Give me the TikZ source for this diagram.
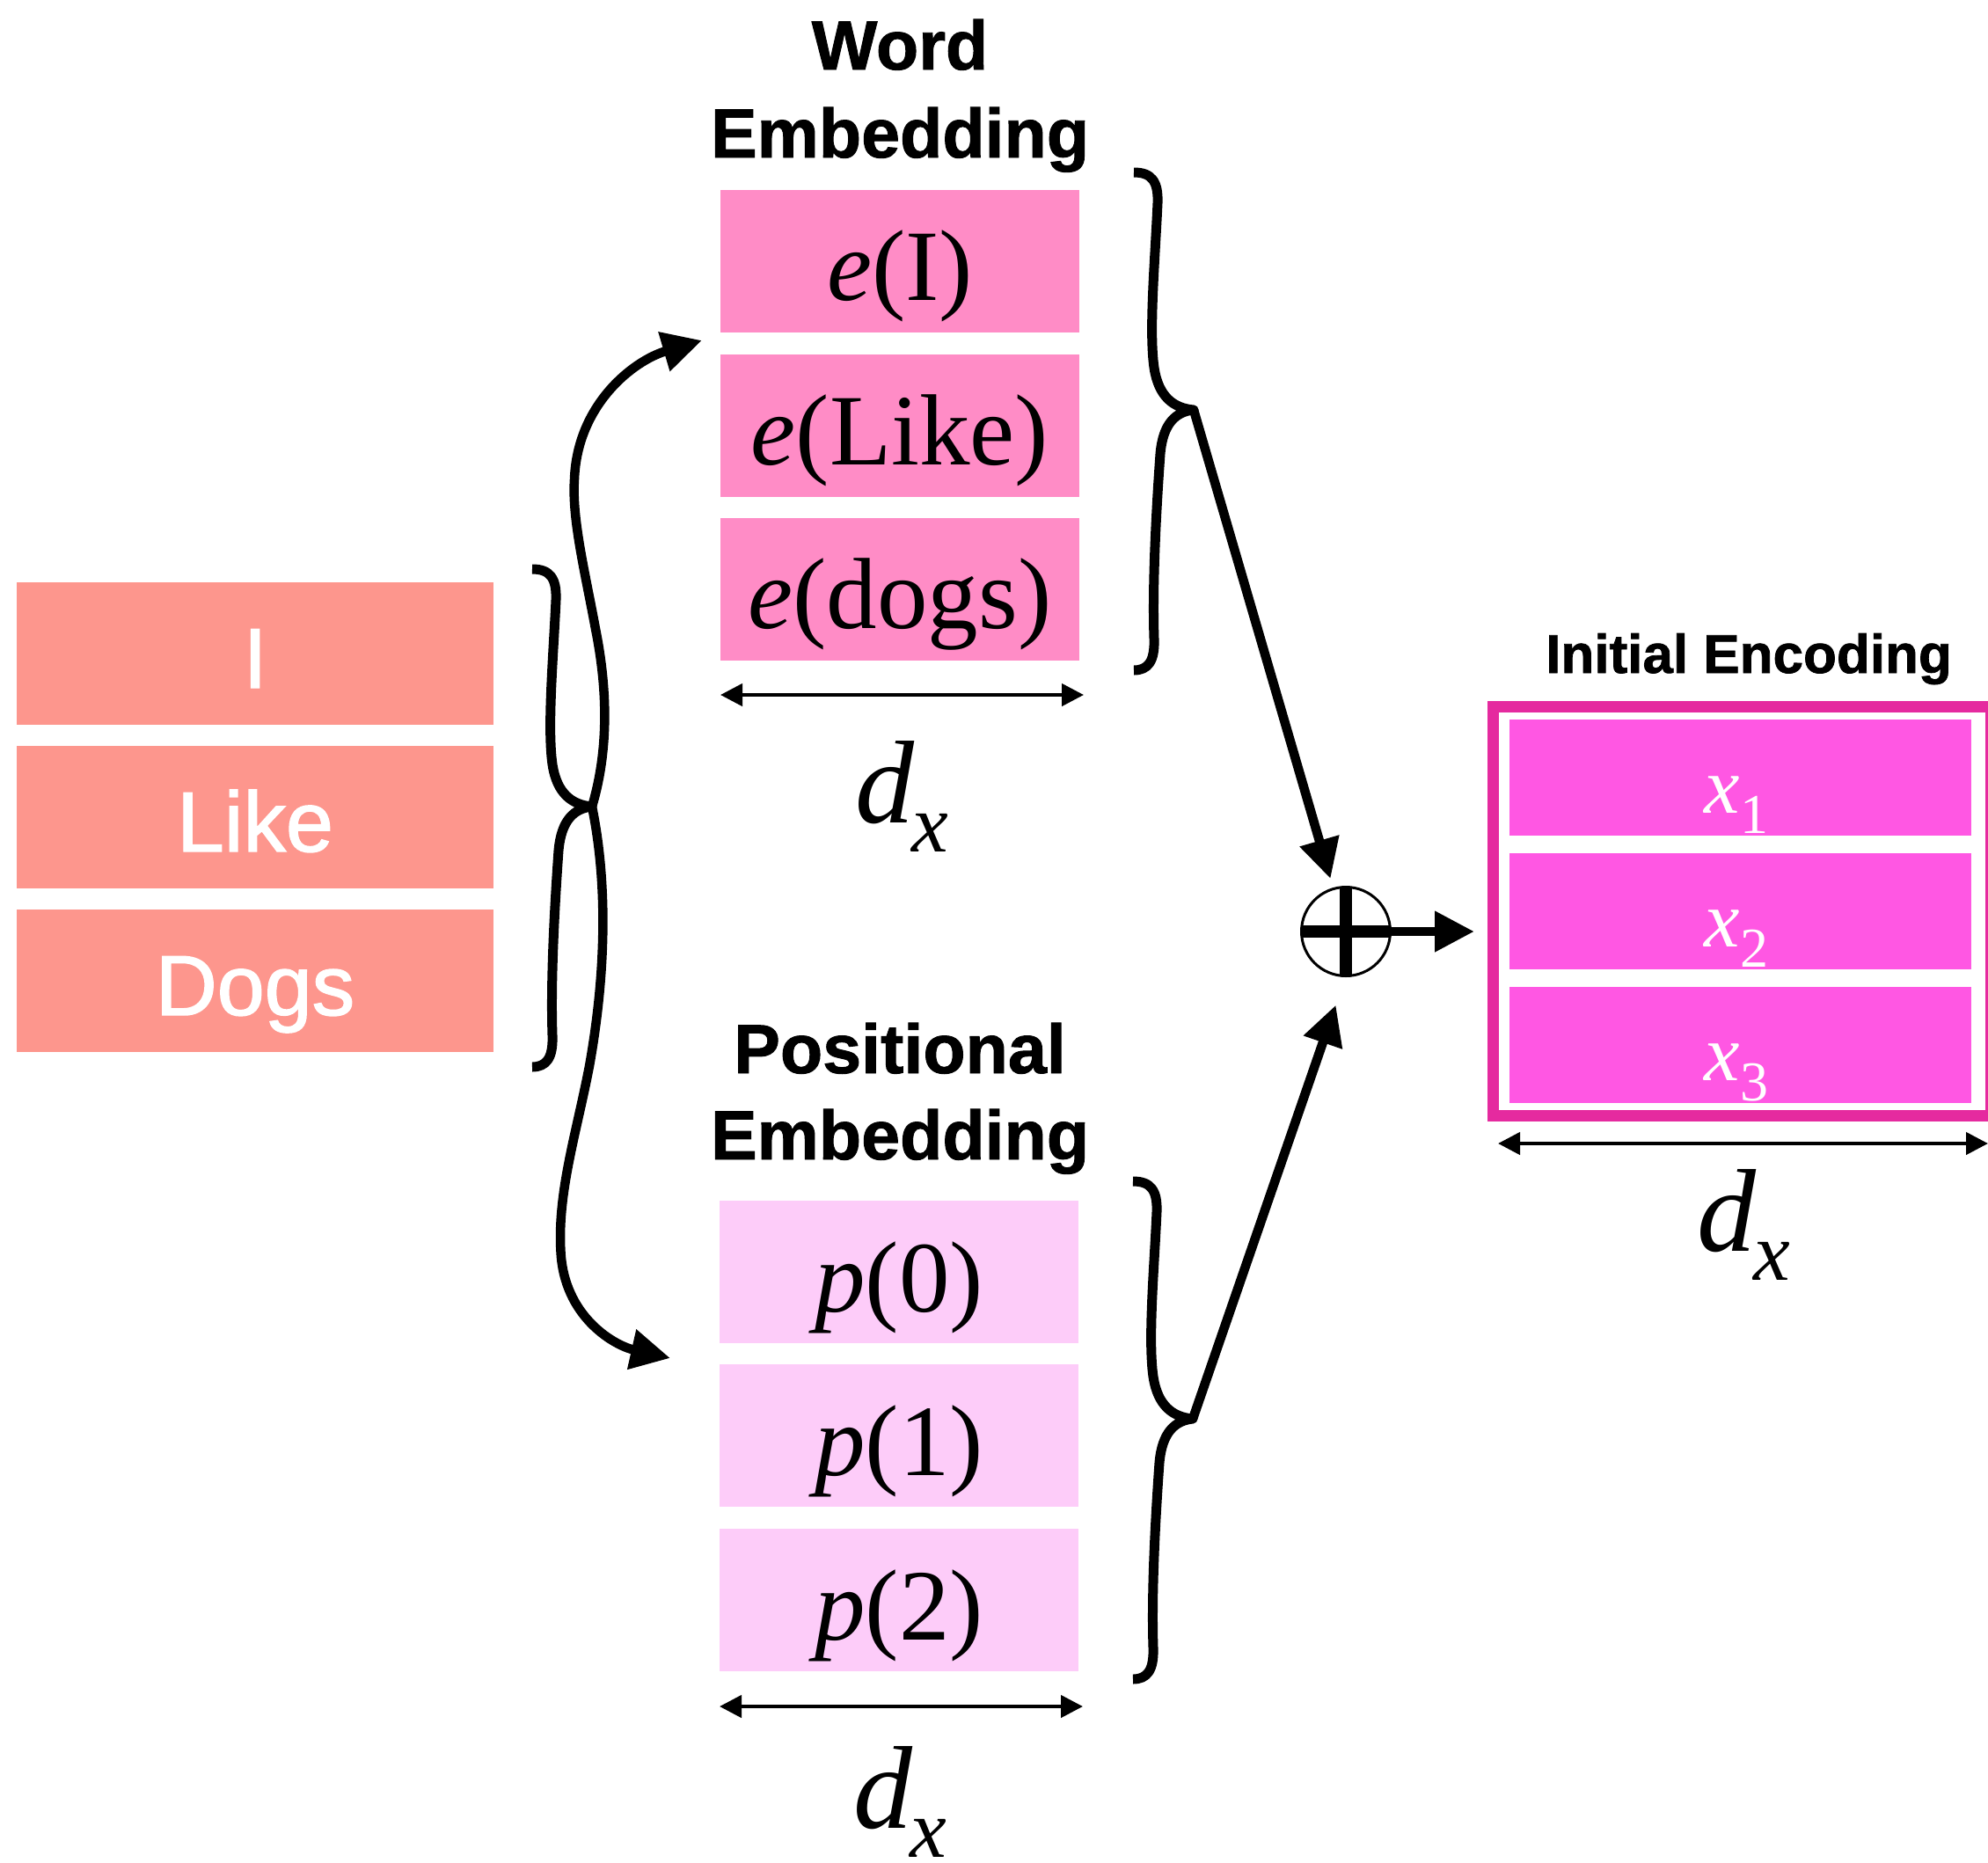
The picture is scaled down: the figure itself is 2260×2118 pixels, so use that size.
\documentclass[tikz,border=0pt]{standalone}
\usepackage{fontspec}
\setmainfont{Liberation Serif}
\newfontfamily\helv{Liberation Sans}
\newfontfamily\tokfont[FakeBold=1.5]{Liberation Sans}
\newfontfamily\headfont[BoldFeatures={FakeBold=1.2}]{Liberation Sans}
\usetikzlibrary{arrows.meta}

\definecolor{tokfill}{HTML}{FD968D}
\definecolor{wordfill}{HTML}{FF8CC6}
\definecolor{posfill}{HTML}{FDCCF9}
\definecolor{encfill}{HTML}{FF57E3}
\definecolor{encframe}{HTML}{E52A9F}

\newcommand\fsz[1]{\fontsize{#1pt}{#1pt}\selectfont}
% d_x width label
\newcommand\dimlabel{{\fsz{134}\itshape d}\kern-3pt\raisebox{-33pt}{\fsz{94}\itshape x}}
% x_i encoding label
\newcommand\encvec[1]{{\fsz{91}\itshape x}\kern1pt\raisebox{-23pt}{\fsz{64}#1}}

\tikzset{
  cellbase/.style={inner sep=0pt, outer sep=0pt, draw=none},
  tokcell/.style={cellbase, fill=tokfill, minimum width=542pt, minimum height=162pt},
  wordcell/.style={cellbase, fill=wordfill, minimum width=408pt, minimum height=162pt},
  poscell/.style={cellbase, fill=posfill, minimum width=408pt, minimum height=162pt},
  enccell/.style={cellbase, fill=encfill, minimum width=525pt, minimum height=132pt},
  toktext/.style={anchor=base, inner sep=0pt, text=white, font=\tokfont\fsz{97}},
  embtext/.style={anchor=base, inner sep=0pt, font=\fsz{115}},
  enctext/.style={anchor=base, inner sep=0pt, text=white},
  heading/.style={anchor=base, inner sep=0pt, font=\headfont\bfseries\fsz{79}},
  smallheading/.style={anchor=base, inner sep=0pt, font=\headfont\bfseries\fsz{62}},
  dimtext/.style={anchor=base, inner sep=0pt},
  arr/.style={line width=10.5pt, -{Triangle[length=45pt,width=44pt]}},
  dimarr/.style={line width=4.5pt,
    {Triangle[length=25pt,width=25pt]}-{Triangle[length=25pt,width=25pt]}},
  bracestroke/.style={line width=11pt, line join=round},
  pics/curlybrace/.style={code={
    \draw[bracestroke] (0,0) .. controls (20,0) and (28,10) .. (27,35)
      .. controls (24,100) and (17,180) .. (23,222)
      .. controls (28,255) and (45,268) .. (68,270)
      .. controls (48,272) and (33,285) .. (30,320)
      .. controls (25,390) and (21,470) .. (23,530)
      .. controls (24,556) and (16,566) .. (0,566);
    \coordinate (-tip) at (68,270);
  }},
}

\begin{document}
\begin{tikzpicture}[x=1pt,y=-1pt]
\clip (0,0) rectangle (2260,2118);
\path[use as bounding box] (0,0) rectangle (2260,2118);

% input tokens
\node[tokcell] (t1) at (290,743) {};
\node[tokcell] (t2) at (290,929) {};
\node[tokcell] (t3) at (290,1115) {};
\node[toktext] (t1txt) at (290,782) {I};
\node[toktext] (t2txt) at (290,968) {Like};
\node[toktext] (t3txt) at (290,1154) {Dogs};
\pic (lb) at (605,647) {curlybrace};

% word embedding
\node[heading] (wh1) at (1023,79) {Word};
\node[heading] (wh2) at (1023,179) {Embedding};
\node[wordcell] (w1) at (1023,297) {};
\node[wordcell] (w2) at (1023,484) {};
\node[wordcell] (w3) at (1023,670) {};
\node[embtext] (w1txt) at (1023,341) {{\itshape e}(I)};
\node[embtext] (w2txt) at (1023,528) {{\itshape e}(Like)};
\node[embtext] (w3txt) at (1023,714) {{\itshape e}(dogs)};
\coordinate (wdl) at (819,790);
\coordinate (wdr) at (1232,790);
\draw[dimarr] (wdl) -- (wdr);
\node[dimtext] (wdim) at (1025,935) {\dimlabel};
\pic (wb) at (1289,196) {curlybrace};

% positional embedding
\node[heading] (ph1) at (1023,1220) {Positional};
\node[heading] (ph2) at (1023,1318) {Embedding};
\node[poscell] (p1) at (1022,1446) {};
\node[poscell] (p2) at (1022,1632) {};
\node[poscell] (p3) at (1022,1819) {};
\node[embtext] (p1txt) at (1022,1491) {{\itshape p}(0)};
\node[embtext] (p2txt) at (1022,1677) {{\itshape p}(1)};
\node[embtext] (p3txt) at (1022,1864) {{\itshape p}(2)};
\coordinate (pdl) at (818,1940);
\coordinate (pdr) at (1231,1940);
\draw[dimarr] (pdl) -- (pdr);
\node[dimtext] (pdim) at (1023,2078) {\dimlabel};
\pic (pb) at (1288,1343) {curlybrace};

% token stack feeds both embeddings
\coordinate (wordin) at (798,387);
\coordinate (posin) at (762,1544);
\draw[arr] (lb-tip) .. controls (693,850) and (690,780) .. (677,715)
  .. controls (665,650) and (650,590) .. (653,545)
  .. controls (656,460) and (720,410) .. (wordin);
\draw[arr] (lb-tip) .. controls (690,1000) and (690,1100) .. (670,1212)
  .. controls (655,1290) and (632,1360) .. (638,1430)
  .. controls (645,1500) and (700,1530) .. (posin);

% sum
\node[circle, draw, line width=3pt, minimum size=101pt, inner sep=0pt, outer sep=0pt] (plus) at (1530,1059) {};
\draw[line width=14pt] (plus.north) -- (plus.south) (plus.west) -- (plus.east);
\draw[arr, shorten >=12pt] (wb-tip) -- (plus);
\draw[arr, shorten >=35pt] (pb-tip) -- (plus.south);

% initial encoding
\node[smallheading] (eh) at (1988,765) {Initial Encoding};
\node[draw=encframe, line width=13pt, inner sep=0pt, outer sep=0pt,
      minimum width=566pt, minimum height=465pt] (enc) at (1980.5,1036) {};
\node[enccell] (x1) at (1978.5,884) {};
\node[enccell] (x2) at (1978.5,1036) {};
\node[enccell] (x3) at (1978.5,1188) {};
\node[enctext] (x1txt) at (1974,924) {\encvec{1}};
\node[enctext] (x2txt) at (1974,1076) {\encvec{2}};
\node[enctext] (x3txt) at (1974,1228) {\encvec{3}};
\draw[arr, shorten >=21.5pt] (plus.east) -- (plus.east -| enc.west);
\coordinate (edl) at (1703,1300);
\coordinate (edr) at (2260,1300);
\draw[dimarr] (edl) -- (edr);
\node[dimtext] (edim) at (1982,1422) {\dimlabel};
\end{tikzpicture}
\end{document}
